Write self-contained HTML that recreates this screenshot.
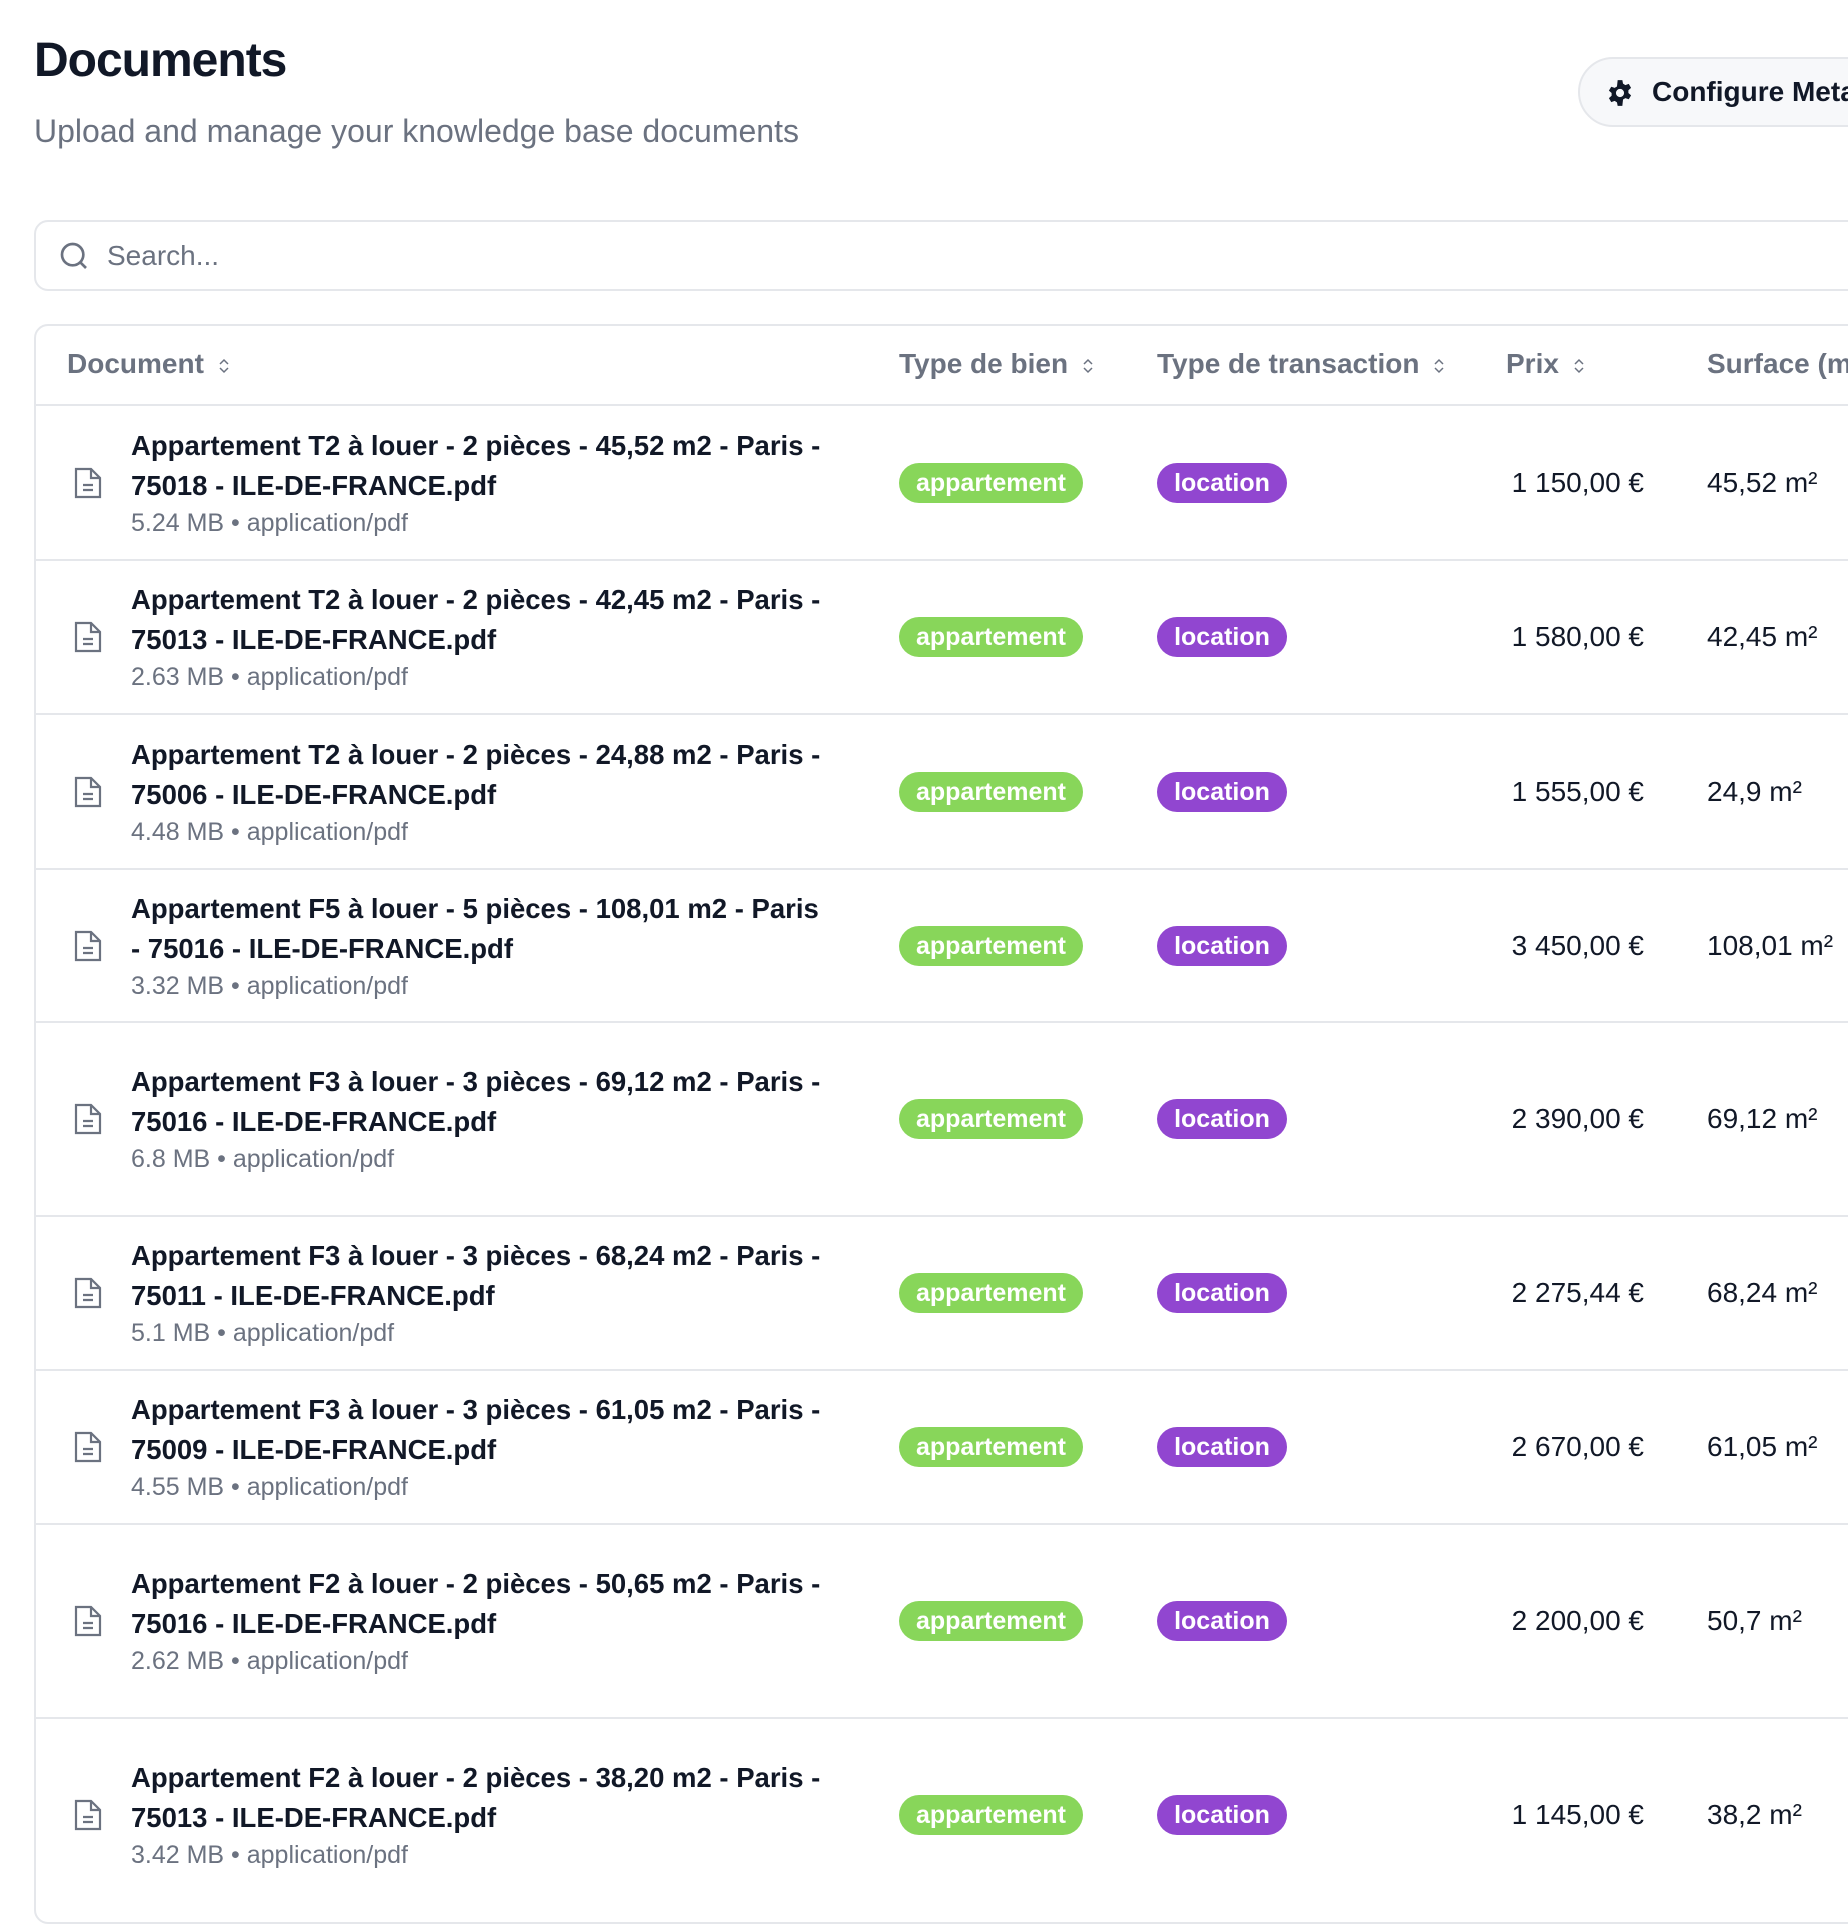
<!DOCTYPE html>
<html><head><meta charset="utf-8"><style>
*{margin:0;padding:0;box-sizing:border-box}
body{width:1848px;height:1848px;overflow:hidden;background:#fff;font-family:"Liberation Sans",sans-serif;position:relative;color:#111827}
.abs{position:absolute}
h1{position:absolute;left:34px;top:33px;font-size:48px;font-weight:700;color:#111827;letter-spacing:-1px}
.sub{left:34px;top:113px;font-size:32px;color:#6b7280}
.btn{left:1578px;top:57px;width:320px;height:70px;border:2px solid #e5e7eb;border-radius:35px;background:#f7f8fa;font-size:28px;font-weight:700;color:#111827;white-space:nowrap}
.search{left:34px;top:220px;width:1850px;height:71px;border:2px solid #e5e7eb;border-radius:14px}
.table{left:34px;top:324px;width:1850px;height:1600px;border:2px solid #e5e7eb;border-radius:14px}
.hd{top:348px;font-size:28px;font-weight:700;color:#6b7280;white-space:nowrap}
.hline{left:34px;width:1820px;height:2px;background:#e5e7eb}
.row{left:36px;width:1820px;display:flex;align-items:center}
.title{position:absolute;left:95px;font-size:27.5px;font-weight:700;line-height:40px;white-space:nowrap;color:#111827}
.meta{font-size:25px;font-weight:400;color:#6b7280;line-height:34px}
.badge{position:absolute;height:40px;border-radius:20px;color:#fff;font-weight:700;font-size:25px;line-height:40px;text-align:center}
.g{left:863px;width:184px;background:#88d65a}
.p{left:1121px;width:130px;background:#9146d0}
.prix{position:absolute;right:212px;font-size:28px;white-space:nowrap}
.surf{position:absolute;left:1671px;font-size:28px;white-space:nowrap}
.ic{position:absolute;left:37px}
.sort{display:inline-block;margin-left:14px;vertical-align:middle}
</style></head><body>
<h1>Documents</h1>
<div class="abs sub">Upload and manage your knowledge base documents</div>
<div class="abs btn"><svg class="abs" style="left:26px;top:20px" width="28" height="28" viewBox="0 0 24 24"><path fill="#111827" d="M12 8.5a3.5 3.5 0 1 0 0 7a3.5 3.5 0 0 0 0-7zM10 1h4l.6 3 2 1.2 2.9-1 2 3.4-2.3 2 0 2.4 2.3 2-2 3.4-2.9-1-2 1.2L14 23h-4l-.6-3-2-1.2-2.9 1-2-3.4 2.3-2 0-2.4-2.3-2 2-3.4 2.9 1 2-1.2z"/></svg><span class="abs" style="left:72px;top:17px">Configure Metadata</span></div>
<div class="abs search"><svg class="abs" style="left:22px;top:18px" width="32" height="32" viewBox="0 0 24 24" fill="none" stroke="#6b7280" stroke-width="2"><circle cx="11" cy="11" r="8"/><path d="M21 21l-4.3-4.3"/></svg><span class="abs" style="left:71px;top:18px;font-size:28px;color:#6b7280">Search...</span></div>
<div class="abs table"></div>
<div class="abs hd" style="left:67px">Document<svg class="sort" width="12" height="18" viewBox="0 0 12 18" fill="none" stroke="#6b7280" stroke-width="1.5"><path d="M2 7l4-4 4 4M2 11l4 4 4-4"/></svg></div>
<div class="abs hd" style="left:899px">Type de bien<svg class="sort" width="12" height="18" viewBox="0 0 12 18" fill="none" stroke="#6b7280" stroke-width="1.5"><path d="M2 7l4-4 4 4M2 11l4 4 4-4"/></svg></div>
<div class="abs hd" style="left:1157px">Type de transaction<svg class="sort" width="12" height="18" viewBox="0 0 12 18" fill="none" stroke="#6b7280" stroke-width="1.5"><path d="M2 7l4-4 4 4M2 11l4 4 4-4"/></svg></div>
<div class="abs hd" style="left:1506px">Prix<svg class="sort" width="12" height="18" viewBox="0 0 12 18" fill="none" stroke="#6b7280" stroke-width="1.5"><path d="M2 7l4-4 4 4M2 11l4 4 4-4"/></svg></div>
<div class="abs hd" style="left:1707px">Surface (m²)</div>
<div class="abs hline" style="top:404px"></div>
<div class="abs hline" style="top:559px"></div>
<div class="abs hline" style="top:713px"></div>
<div class="abs hline" style="top:868px"></div>
<div class="abs hline" style="top:1021px"></div>
<div class="abs hline" style="top:1215px"></div>
<div class="abs hline" style="top:1369px"></div>
<div class="abs hline" style="top:1523px"></div>
<div class="abs hline" style="top:1717px"></div>

<div class="abs row" style="top:405px;height:155px">
<svg class="ic" width="30" height="34" viewBox="0 0 30 34" fill="none" stroke="#6b7280" stroke-width="2.2"><path d="M3 3h15l9 9v19H3z"/><path d="M18 3v9h9M10 19h10M10 24h10"/></svg>
<div class="title">Appartement T2 à louer - 2 pièces - 45,52 m2 - Paris -<br>75018 - ILE-DE-FRANCE.pdf<div class="meta">5.24 MB • application/pdf</div></div>
<div class="badge g">appartement</div><div class="badge p">location</div><div class="prix">1 150,00 €</div><div class="surf">45,52 m²</div></div>

<div class="abs row" style="top:560px;height:154px">
<svg class="ic" width="30" height="34" viewBox="0 0 30 34" fill="none" stroke="#6b7280" stroke-width="2.2"><path d="M3 3h15l9 9v19H3z"/><path d="M18 3v9h9M10 19h10M10 24h10"/></svg>
<div class="title">Appartement T2 à louer - 2 pièces - 42,45 m2 - Paris -<br>75013 - ILE-DE-FRANCE.pdf<div class="meta">2.63 MB • application/pdf</div></div>
<div class="badge g">appartement</div><div class="badge p">location</div><div class="prix">1 580,00 €</div><div class="surf">42,45 m²</div></div>

<div class="abs row" style="top:714px;height:155px">
<svg class="ic" width="30" height="34" viewBox="0 0 30 34" fill="none" stroke="#6b7280" stroke-width="2.2"><path d="M3 3h15l9 9v19H3z"/><path d="M18 3v9h9M10 19h10M10 24h10"/></svg>
<div class="title">Appartement T2 à louer - 2 pièces - 24,88 m2 - Paris -<br>75006 - ILE-DE-FRANCE.pdf<div class="meta">4.48 MB • application/pdf</div></div>
<div class="badge g">appartement</div><div class="badge p">location</div><div class="prix">1 555,00 €</div><div class="surf">24,9 m²</div></div>

<div class="abs row" style="top:869px;height:153px">
<svg class="ic" width="30" height="34" viewBox="0 0 30 34" fill="none" stroke="#6b7280" stroke-width="2.2"><path d="M3 3h15l9 9v19H3z"/><path d="M18 3v9h9M10 19h10M10 24h10"/></svg>
<div class="title">Appartement F5 à louer - 5 pièces - 108,01 m2 - Paris<br>- 75016 - ILE-DE-FRANCE.pdf<div class="meta">3.32 MB • application/pdf</div></div>
<div class="badge g">appartement</div><div class="badge p">location</div><div class="prix">3 450,00 €</div><div class="surf">108,01 m²</div></div>

<div class="abs row" style="top:1022px;height:194px">
<svg class="ic" width="30" height="34" viewBox="0 0 30 34" fill="none" stroke="#6b7280" stroke-width="2.2"><path d="M3 3h15l9 9v19H3z"/><path d="M18 3v9h9M10 19h10M10 24h10"/></svg>
<div class="title">Appartement F3 à louer - 3 pièces - 69,12 m2 - Paris -<br>75016 - ILE-DE-FRANCE.pdf<div class="meta">6.8 MB • application/pdf</div></div>
<div class="badge g">appartement</div><div class="badge p">location</div><div class="prix">2 390,00 €</div><div class="surf">69,12 m²</div></div>

<div class="abs row" style="top:1216px;height:154px">
<svg class="ic" width="30" height="34" viewBox="0 0 30 34" fill="none" stroke="#6b7280" stroke-width="2.2"><path d="M3 3h15l9 9v19H3z"/><path d="M18 3v9h9M10 19h10M10 24h10"/></svg>
<div class="title">Appartement F3 à louer - 3 pièces - 68,24 m2 - Paris -<br>75011 - ILE-DE-FRANCE.pdf<div class="meta">5.1 MB • application/pdf</div></div>
<div class="badge g">appartement</div><div class="badge p">location</div><div class="prix">2 275,44 €</div><div class="surf">68,24 m²</div></div>

<div class="abs row" style="top:1370px;height:154px">
<svg class="ic" width="30" height="34" viewBox="0 0 30 34" fill="none" stroke="#6b7280" stroke-width="2.2"><path d="M3 3h15l9 9v19H3z"/><path d="M18 3v9h9M10 19h10M10 24h10"/></svg>
<div class="title">Appartement F3 à louer - 3 pièces - 61,05 m2 - Paris -<br>75009 - ILE-DE-FRANCE.pdf<div class="meta">4.55 MB • application/pdf</div></div>
<div class="badge g">appartement</div><div class="badge p">location</div><div class="prix">2 670,00 €</div><div class="surf">61,05 m²</div></div>

<div class="abs row" style="top:1524px;height:194px">
<svg class="ic" width="30" height="34" viewBox="0 0 30 34" fill="none" stroke="#6b7280" stroke-width="2.2"><path d="M3 3h15l9 9v19H3z"/><path d="M18 3v9h9M10 19h10M10 24h10"/></svg>
<div class="title">Appartement F2 à louer - 2 pièces - 50,65 m2 - Paris -<br>75016 - ILE-DE-FRANCE.pdf<div class="meta">2.62 MB • application/pdf</div></div>
<div class="badge g">appartement</div><div class="badge p">location</div><div class="prix">2 200,00 €</div><div class="surf">50,7 m²</div></div>

<div class="abs row" style="top:1718px;height:194px">
<svg class="ic" width="30" height="34" viewBox="0 0 30 34" fill="none" stroke="#6b7280" stroke-width="2.2"><path d="M3 3h15l9 9v19H3z"/><path d="M18 3v9h9M10 19h10M10 24h10"/></svg>
<div class="title">Appartement F2 à louer - 2 pièces - 38,20 m2 - Paris -<br>75013 - ILE-DE-FRANCE.pdf<div class="meta">3.42 MB • application/pdf</div></div>
<div class="badge g">appartement</div><div class="badge p">location</div><div class="prix">1 145,00 €</div><div class="surf">38,2 m²</div></div>
</body></html>
